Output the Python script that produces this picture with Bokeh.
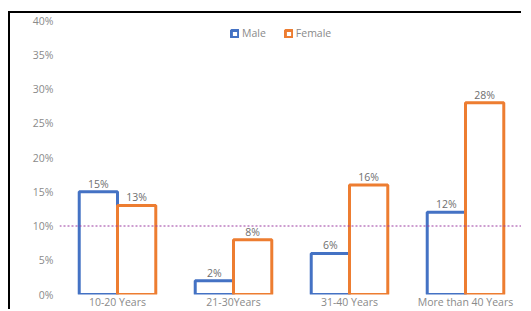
from bokeh.plotting import figure
from bokeh.models import ColumnDataSource, FactorRange, Range1d, Legend, LegendItem, Span, PrintfTickFormatter, FixedTicker
from bokeh.transform import dodge
from bokeh.core.properties import value
from bokeh.embed import file_html
from bokeh.resources import INLINE

categories = ["10-20 Years", "21-30Years", "31-40 Years", "More than 40 Years"]
male = [15, 2, 6, 12]
female = [13, 8, 16, 28]
y_ticks = [0, 5, 10, 15, 20, 25, 30, 35, 40]

FONT = "Open Sans"
BLUE = "#4472C4"
ORANGE = "#ED7D31"
GRAY = "#8a8a8a"

src = ColumnDataSource(dict(
    cat=categories,
    male=male,
    female=female,
    male_lbl=[f"{v}%" for v in male],
    female_lbl=[f"{v}%" for v in female],
))

p = figure(
    x_range=FactorRange(*categories, range_padding=0),
    y_range=Range1d(0, 40),
    width=513, height=298,
    output_backend="svg", toolbar_location=None,
    min_border_left=49, min_border_right=0, min_border_top=7, min_border_bottom=0,
    margin=(11, 0, 0, 8),
    styles={"border-left": "2px solid black", "border-top": "2px solid black"},
)
p.outline_line_color = None
p.background_fill_color = "white"
p.border_fill_color = "white"
p.xgrid.grid_line_color = None
p.ygrid.grid_line_color = None

BW = 0.33
rm = p.vbar(x=dodge("cat", -BW / 2, range=p.x_range), top="male", width=BW, source=src,
            fill_color="white", line_color=BLUE, line_width=3)
rf = p.vbar(x=dodge("cat", BW / 2, range=p.x_range), top="female", width=BW, source=src,
            fill_color="white", line_color=ORANGE, line_width=3)

p.text(x=dodge("cat", -BW / 2, range=p.x_range), y="male", text="male_lbl", source=src,
       text_align="center", text_baseline="bottom", y_offset=-1,
       text_font=value(FONT), text_font_size="10.5px", text_color="#6e6e6e")
p.text(x=dodge("cat", BW / 2, range=p.x_range), y="female", text="female_lbl", source=src,
       text_align="center", text_baseline="bottom", y_offset=-1,
       text_font=value(FONT), text_font_size="10.5px", text_color="#6e6e6e")

p.add_layout(Span(location=10, dimension="width", line_color="#9b3aa0",
                  line_dash="2 2", line_width=1))

p.yaxis.ticker = FixedTicker(ticks=y_ticks)
p.yaxis.formatter = PrintfTickFormatter(format="%d%%")
for ax in (p.xaxis[0], p.yaxis[0]):
    ax.axis_line_color = None
    ax.major_tick_line_color = None
    ax.minor_tick_line_color = None
    ax.major_tick_out = 0
    ax.major_tick_in = 0
    ax.major_label_text_font = FONT
    ax.major_label_text_font_size = "10.5px"
    ax.major_label_text_color = GRAY
p.yaxis.major_label_standoff = 6
p.xaxis.major_label_standoff = 0

legend = Legend(items=[LegendItem(label="Male", renderers=[rm]),
                       LegendItem(label="Female", renderers=[rf])],
                location=(171, 254), orientation="horizontal",
                glyph_width=9, glyph_height=9, label_standoff=3, spacing=18,
                margin=0, padding=5, border_line_color=None, background_fill_alpha=0,
                label_text_font=FONT, label_text_font_size="10.5px", label_text_color=GRAY,
                label_height=9)
p.add_layout(legend)

open("out.html", "w").write(file_html(p, INLINE))
